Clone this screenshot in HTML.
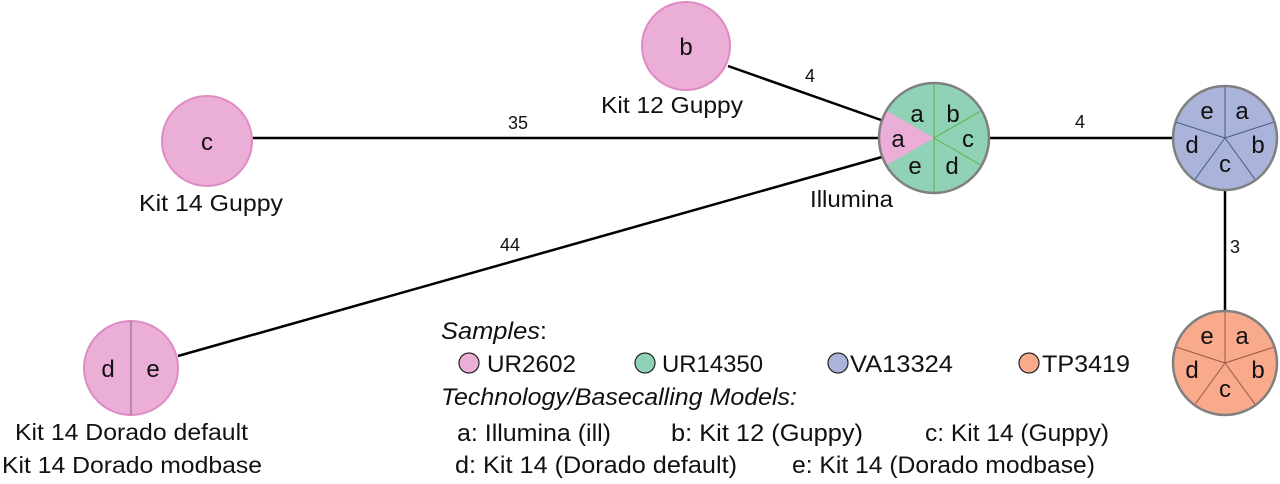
<!DOCTYPE html>
<html><head><meta charset="utf-8"><style>
html,body{margin:0;padding:0;background:#fff;}
svg{display:block;font-family:"Liberation Sans",Arial,sans-serif;}
</style></head><body>
<svg width="1280" height="484" viewBox="0 0 1280 484" xmlns="http://www.w3.org/2000/svg">
<g stroke="#000" stroke-width="2.5">
<line x1="728" y1="66" x2="881" y2="120"/>
<line x1="253" y1="138" x2="880" y2="138"/>
<line x1="178" y1="356" x2="882" y2="157"/>
<line x1="990" y1="138" x2="1173" y2="138"/>
<line x1="1225" y1="190" x2="1225" y2="311"/>
</g>
<g fill="#ebaed6" stroke="#de8cc4" stroke-width="2">
<circle cx="686" cy="46" r="44"/>
<circle cx="207" cy="141" r="45"/>
<circle cx="131" cy="368" r="47"/>
</g>
<line x1="131" y1="321" x2="131" y2="415" stroke="#9a6a8e" stroke-width="1.2"/>
<circle cx="934" cy="138" r="55" fill="#8fd2b5"/>
<path d="M934,138 L886.4,110.5 A55,55 0 0,0 886.4,165.5 Z" fill="#ebaed6"/>
<g stroke="#5fae4a" stroke-width="1">
<line x1="934" y1="83" x2="934" y2="193"/>
<line x1="934" y1="138" x2="981.6" y2="110.5"/>
<line x1="934" y1="138" x2="981.6" y2="165.5"/>
</g>
<circle cx="934" cy="138" r="55" fill="none" stroke="#808080" stroke-width="2.5"/>
<circle cx="1225" cy="138" r="52" fill="#aab4da"/>
<g stroke="#4a5a8a" stroke-width="1">
<line x1="1225" y1="138" x2="1225" y2="86"/>
<line x1="1225" y1="138" x2="1274.5" y2="121.9"/>
<line x1="1225" y1="138" x2="1255.6" y2="180.1"/>
<line x1="1225" y1="138" x2="1194.4" y2="180.1"/>
<line x1="1225" y1="138" x2="1175.5" y2="121.9"/>
</g>
<circle cx="1225" cy="138" r="52" fill="none" stroke="#808080" stroke-width="2.5"/>
<circle cx="1225" cy="363" r="52" fill="#f9aa8b"/>
<g stroke="#9a5a44" stroke-width="1">
<line x1="1225" y1="363" x2="1225" y2="311"/>
<line x1="1225" y1="363" x2="1274.5" y2="346.9"/>
<line x1="1225" y1="363" x2="1255.6" y2="405.1"/>
<line x1="1225" y1="363" x2="1194.4" y2="405.1"/>
<line x1="1225" y1="363" x2="1175.5" y2="346.9"/>
</g>
<circle cx="1225" cy="363" r="52" fill="none" stroke="#808080" stroke-width="2.5"/>
<g font-size="24" fill="#111" text-anchor="middle">
<text x="686" y="55">b</text>
<text x="207" y="150">c</text>
<text x="108" y="377">d</text>
<text x="153" y="377">e</text>
<text x="917" y="122">a</text>
<text x="953" y="122">b</text>
<text x="968" y="147">c</text>
<text x="898" y="147">a</text>
<text x="915" y="174">e</text>
<text x="952" y="174">d</text>
<text x="1207" y="119">e</text>
<text x="1242" y="119">a</text>
<text x="1192" y="153">d</text>
<text x="1258" y="153">b</text>
<text x="1225" y="172">c</text>
<text x="1207" y="344">e</text>
<text x="1242" y="344">a</text>
<text x="1192" y="378">d</text>
<text x="1258" y="378">b</text>
<text x="1225" y="397">c</text>
</g>
<g font-size="23" fill="#111">
<text x="601" y="113" textLength="142" lengthAdjust="spacingAndGlyphs">Kit 12 Guppy</text>
<text x="139" y="211" textLength="144" lengthAdjust="spacingAndGlyphs">Kit 14 Guppy</text>
<text x="810" y="207" textLength="83" lengthAdjust="spacingAndGlyphs">Illumina</text>
<text x="15" y="440" textLength="233" lengthAdjust="spacingAndGlyphs">Kit 14 Dorado default</text>
<text x="2" y="473" textLength="260" lengthAdjust="spacingAndGlyphs">Kit 14 Dorado modbase</text>
</g>
<g font-size="18" fill="#111" text-anchor="middle">
<text x="810" y="82">4</text>
<text x="518" y="129">35</text>
<text x="510" y="251">44</text>
<text x="1080" y="128">4</text>
<text x="1235" y="253">3</text>
</g>
<g font-size="24" fill="#111">
<text x="441" y="339" font-style="italic" textLength="106" lengthAdjust="spacingAndGlyphs">Samples<tspan font-style="normal">:</tspan></text>
<circle cx="469" cy="363" r="10" fill="#ebaed6" stroke="#222" stroke-width="1.2"/>
<text x="487" y="372" textLength="89" lengthAdjust="spacingAndGlyphs">UR2602</text>
<circle cx="645" cy="363" r="10" fill="#8fd2b5" stroke="#222" stroke-width="1.2"/>
<text x="662" y="372" textLength="101" lengthAdjust="spacingAndGlyphs">UR14350</text>
<circle cx="838" cy="363" r="10" fill="#aab4da" stroke="#222" stroke-width="1.2"/>
<text x="850" y="372" textLength="103" lengthAdjust="spacingAndGlyphs">VA13324</text>
<circle cx="1029" cy="363" r="10" fill="#f9aa8b" stroke="#222" stroke-width="1.2"/>
<text x="1042" y="372" textLength="88" lengthAdjust="spacingAndGlyphs">TP3419</text>
<text x="441" y="405" font-style="italic" textLength="356" lengthAdjust="spacingAndGlyphs">Technology/Basecalling Models:</text>
<text x="457" y="441" textLength="154" lengthAdjust="spacingAndGlyphs">a: Illumina (ill)</text>
<text x="671" y="441" textLength="192" lengthAdjust="spacingAndGlyphs">b: Kit 12 (Guppy)</text>
<text x="925" y="441" textLength="184" lengthAdjust="spacingAndGlyphs">c: Kit 14 (Guppy)</text>
<text x="455" y="473" textLength="282" lengthAdjust="spacingAndGlyphs">d: Kit 14 (Dorado default)</text>
<text x="792" y="473" textLength="303" lengthAdjust="spacingAndGlyphs">e: Kit 14 (Dorado modbase)</text>
</g>
</svg>
</body></html>
